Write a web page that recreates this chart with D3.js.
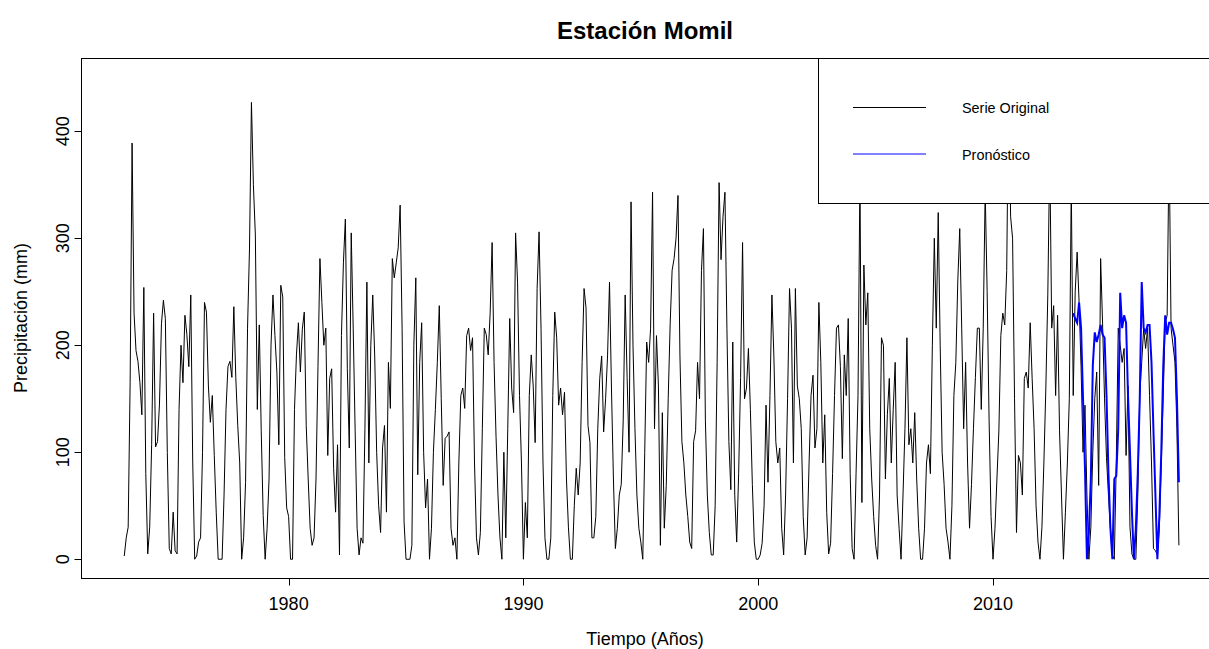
<!DOCTYPE html>
<html>
<head>
<meta charset="utf-8">
<script src="https://cdn.jsdelivr.net/npm/d3@7"></script>
<style>
  body { margin: 0; background: #fff; }
  svg { display: block; }
</style>
</head>
<body>
<script>
const SVG_WIDTH = 1209;
const SVG_HEIGHT = 649;
const FONT = '"Liberation Sans", Arial, sans-serif';

// monthly precipitation (mm) at Momil, one row per year, from January 1973
const startYear = 1973;
const rain1970s = [
  3, 20, 30, 165, 389, 230, 195, 185, 165, 135, 254, 80,
  5, 30, 107, 230, 105, 110, 145, 220, 242, 225, 100, 10,
  5, 44, 8, 5, 140, 200, 165, 228, 210, 180, 247, 90,
  0, 3, 16, 20, 100, 240, 231, 162, 128, 153, 97, 44,
  0, 0, 0, 60, 140, 180, 185, 170, 236, 170, 125, 90,
  0, 20, 72, 216, 290, 427, 350, 303, 140, 219, 120, 41,
  0, 29, 75, 200, 247, 209, 175, 107, 256, 245, 95, 48
];
const rain1980s = [
  40, 0, 0, 140, 191, 221, 175, 215, 231, 125, 75, 29,
  13, 20, 75, 180, 281, 240, 200, 216, 97, 169, 178, 85,
  44, 107, 4, 209, 277, 318, 178, 104, 305, 216, 120, 29,
  4, 20, 15, 122, 259, 90, 200, 247, 190, 100, 50, 25,
  104, 125, 44, 184, 141, 281, 263, 277, 291, 331, 216, 35,
  0, 0, 0, 13, 200, 263, 79, 184, 221, 100, 48, 75,
  0, 29, 100, 140, 184, 237, 150, 69, 113, 115, 119, 29,
  13, 20, 0, 90, 153, 160, 141, 209, 216, 195, 207, 90,
  20, 4, 25, 122, 216, 210, 191, 230, 296, 184, 115, 60,
  20, 0, 100, 20, 122, 225, 160, 137, 305, 259, 153, 90
];
const rain1990s = [
  0, 53, 20, 153, 191, 162, 109, 253, 306, 216, 90, 20,
  0, 0, 20, 153, 231, 207, 144, 160, 135, 156, 75, 30,
  0, 0, 50, 85, 60, 90, 184, 253, 235, 125, 109, 20,
  20, 40, 122, 169, 190, 119, 150, 190, 259, 160, 75, 10,
  29, 60, 70, 130, 247, 170, 100, 334, 200, 122, 60, 29,
  16, 0, 100, 203, 184, 216, 343, 122, 209, 162, 13, 137,
  29, 69, 150, 220, 270, 281, 300, 340, 190, 110, 90, 60,
  40, 16, 10, 110, 120, 184, 150, 270, 309, 130, 60, 25,
  4, 4, 50, 184, 352, 280, 320, 343, 216, 110, 65, 203,
  60, 16, 80, 170, 296, 150, 160, 197, 140, 70, 16, 0
];
const rain2000s = [
  0, 4, 15, 50, 144, 72, 153, 247, 190, 110, 90, 104,
  29, 4, 60, 150, 253, 216, 90, 253, 162, 150, 122, 40,
  4, 20, 90, 153, 172, 104, 122, 240, 184, 90, 135, 44,
  5, 15, 80, 153, 216, 219, 180, 94, 191, 153, 225, 80,
  10, 0, 80, 153, 360, 53, 275, 219, 249, 122, 75, 40,
  13, 0, 60, 207, 200, 75, 135, 169, 90, 140, 184, 60,
  29, 0, 60, 122, 207, 107, 122, 90, 137, 75, 29, 0,
  0, 29, 90, 107, 80, 200, 300, 216, 324, 200, 100, 70,
  29, 16, 0, 50, 153, 184, 260, 309, 216, 122, 184, 90,
  29, 70, 122, 170, 216, 216, 140, 216, 345, 250, 130, 40
];
const rain2010s = [
  0, 29, 75, 120, 209, 230, 219, 270, 450, 320, 300, 150,
  25, 97, 90, 60, 169, 175, 160, 221, 169, 122, 50, 16,
  0, 30, 90, 160, 247, 380, 216, 237, 153, 228, 120, 60,
  0, 44, 90, 150, 350, 153, 250, 287, 240, 180, 100, 144,
  60, 0, 30, 100, 150, 175, 69, 281, 220, 150, 95, 60,
  29, 4, 0, 90, 216, 200, 184, 197, 97, 162, 30, 5,
  0, 0, 60, 153, 184, 216, 197, 216, 153, 90, 10, 8,
  4, 29, 90, 153, 221, 228, 390, 216, 200, 184, 122, 13
];

// forecast (mm), monthly from June 2013
const forecastStart = 2013 + 5 / 12;
const forecast = [
  230, 225, 221, 240, 216, 150, 85,
  0, 25, 75, 181, 212, 203, 210, 219, 210, 207, 153, 80,
  29, 0, 75, 78, 122, 249, 216, 228, 221, 153, 100, 44,
  0, 29, 81, 150, 259, 216, 212, 219, 219, 184, 120, 60,
  0, 40, 100, 180, 228, 210, 221, 221, 215, 207, 150, 72
];

const xTicks = [1980, 1990, 2000, 2010];
const yTicks = [0, 100, 200, 300, 400];
const legendLabels = ['Serie Original', 'Pronóstico'];
const legendColors = ['black', 'blue'];

const rainfall = [].concat(rain1970s, rain1980s, rain1990s, rain2000s, rain2010s);
const series = rainfall.map((v, i) => ({ t: startYear + i / 12, v }));
const predicted = forecast.map((v, i) => ({ t: forecastStart + i / 12, v }));

const x = d3.scaleLinear().domain([1971.2, 2019.71]).range([82, 1221]);
const y = d3.scaleLinear().domain([-18, 468]).range([578.5, 58.5]);

const svg = d3.select('body').append('svg')
    .attr('width', SVG_WIDTH)
    .attr('height', SVG_HEIGHT)
    .style('font-family', FONT);

svg.append('rect')
    .attr('width', SVG_WIDTH)
    .attr('height', SVG_HEIGHT)
    .attr('fill', 'white');

svg.append('defs').append('clipPath')
    .attr('id', 'plot-area')
  .append('rect')
    .attr('x', 81.5)
    .attr('y', 58.5)
    .attr('width', x.range()[1] - 81.5)
    .attr('height', y.range()[0] - 58.5);

const line = d3.line()
    .x(d => x(d.t))
    .y(d => y(d.v));

const plot = svg.append('g').attr('clip-path', 'url(#plot-area)');

plot.append('path')
    .datum(series)
    .attr('d', line)
    .attr('fill', 'none')
    .attr('stroke', 'black')
    .attr('stroke-width', 1);

plot.append('path')
    .datum(predicted)
    .attr('d', line)
    .attr('fill', 'none')
    .attr('stroke', 'blue')
    .attr('stroke-width', 2);

// box round the plot
svg.append('rect')
    .attr('x', 81.5)
    .attr('y', 58.5)
    .attr('width', x.range()[1] - 81.5)
    .attr('height', y.range()[0] - 58.5)
    .attr('fill', 'none')
    .attr('stroke', 'black');

// x axis
const xAxis = svg.append('g');
xAxis.selectAll('line')
  .data(xTicks)
  .enter().append('line')
    .attr('x1', d => Math.round(x(d)) + 0.5)
    .attr('x2', d => Math.round(x(d)) + 0.5)
    .attr('y1', y.range()[0])
    .attr('y2', y.range()[0] + 7)
    .attr('stroke', 'black');
xAxis.append('line')
    .attr('x1', Math.round(x(xTicks[0])) + 0.5)
    .attr('x2', Math.round(x(xTicks[xTicks.length - 1])) + 0.5)
    .attr('y1', y.range()[0])
    .attr('y2', y.range()[0])
    .attr('stroke', 'black');
xAxis.selectAll('text')
  .data(xTicks)
  .enter().append('text')
    .attr('x', d => x(d))
    .attr('y', 609.5)
    .attr('text-anchor', 'middle')
    .attr('font-size', 18)
    .text(d => d);

// y axis, labels parallel to the axis
const yAxis = svg.append('g');
yAxis.selectAll('line')
  .data(yTicks)
  .enter().append('line')
    .attr('x1', 81.5)
    .attr('x2', 74.5)
    .attr('y1', d => Math.round(y(d)) + 0.5)
    .attr('y2', d => Math.round(y(d)) + 0.5)
    .attr('stroke', 'black');
yAxis.selectAll('text')
  .data(yTicks)
  .enter().append('text')
    .attr('transform', d => `translate(68.5,${y(d)}) rotate(-90)`)
    .attr('text-anchor', 'middle')
    .attr('font-size', 18)
    .text(d => d);

svg.append('text')
    .attr('x', 645)
    .attr('y', 644.5)
    .attr('text-anchor', 'middle')
    .attr('font-size', 18)
    .text('Tiempo (Años)');

svg.append('text')
    .attr('transform', 'translate(26.5,318) rotate(-90)')
    .attr('text-anchor', 'middle')
    .attr('font-size', 18)
    .text('Precipitación (mm)');

svg.append('text')
    .attr('x', 645)
    .attr('y', 39)
    .attr('text-anchor', 'middle')
    .attr('font-size', 24)
    .attr('font-weight', 'bold')
    .text('Estación Momil');

// legend, top right, white box over the lines
const legend = svg.append('g');
legend.append('rect')
    .attr('x', 818.5)
    .attr('y', 58.5)
    .attr('width', x.range()[1] - 818.5)
    .attr('height', 145)
    .attr('fill', 'white')
    .attr('stroke', 'black');

const legendRows = [107.5, 154];
legend.selectAll('line')
  .data(legendLabels)
  .enter().append('line')
    .attr('x1', 853)
    .attr('x2', 926)
    .attr('y1', (d, i) => legendRows[i])
    .attr('y2', (d, i) => legendRows[i])
    .attr('stroke', (d, i) => legendColors[i])
    .attr('stroke-width', 1);
legend.selectAll('text')
  .data(legendLabels)
  .enter().append('text')
    .attr('x', 962)
    .attr('y', (d, i) => legendRows[i] + 5.5)
    .attr('font-size', 14.4)
    .text(d => d);
</script>
</body>
</html>
